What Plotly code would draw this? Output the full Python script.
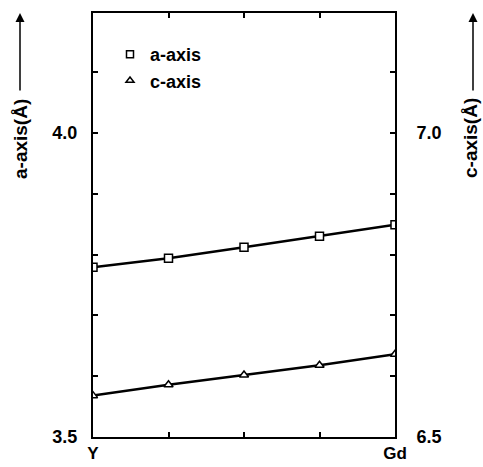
import plotly.graph_objects as go

# data
categories = ["Y", "", "", "", "Gd"]
x_pos = [0, 1, 2, 3, 4]
a_axis = [3.779, 3.794, 3.812, 3.830, 3.849]
c_axis = [6.568, 6.586, 6.602, 6.618, 6.636]
left_ticks = [3.5, 3.6, 3.7, 3.8, 3.9, 4.0, 4.1]
left_ticktext = ["3.5", "", "", "", "", "4.0", ""]
right_ticks = [6.5, 6.6, 6.7, 6.8, 6.9, 7.0, 7.1]
right_ticktext = ["6.5", "", "", "", "", "7.0", ""]

FONT = "Liberation Sans"
L, R, T, B = 93, 88, 13, 30
W, H = 483, 467
PW, PH = W - L - R, H - T - B

def px(xp):
    return (xp - L) / PW

def py(yp):
    return (H - B - yp) / PH

fig = go.Figure()
fig.add_trace(go.Scatter(
    x=x_pos, y=a_axis, mode="lines+markers", showlegend=False,
    line=dict(color="black", width=2.5),
    marker=dict(symbol="square", size=8, color="white", line=dict(color="black", width=1.5)),
))
fig.add_trace(go.Scatter(
    x=x_pos, y=c_axis, mode="lines+markers", showlegend=False, yaxis="y2",
    line=dict(color="black", width=2.5),
    marker=dict(symbol="triangle-up", size=8, color="white", line=dict(color="black", width=1.5)),
))
# legend-only entries
fig.add_trace(go.Scatter(
    x=[None], y=[None], mode="markers", name="a-axis",
    marker=dict(symbol="square", size=7, color="white", line=dict(color="black", width=1.5)),
))
fig.add_trace(go.Scatter(
    x=[None], y=[None], mode="markers", name="c-axis",
    marker=dict(symbol="triangle-up", size=7, color="white", line=dict(color="black", width=1.5)),
))

tickfont = dict(family=FONT, size=18, color="black", weight="bold")
xtickfont = dict(family=FONT, size=17, color="black", weight="bold")

fig.update_layout(
    width=W, height=H,
    margin=dict(l=L, r=R, t=T, b=B, pad=0, autoexpand=False),
    paper_bgcolor="white", plot_bgcolor="white",
    font=dict(family=FONT, color="black"),
    xaxis=dict(
        range=[0, 4], tickvals=x_pos, ticktext=categories, automargin=False,
        ticks="inside", ticklen=5, tickwidth=1.5, tickcolor="black",
        showline=True, linecolor="black", linewidth=2, mirror="ticks",
        showgrid=False, zeroline=False, tickfont=xtickfont, ticklabelstandoff=0,
    ),
    yaxis=dict(
        range=[3.5, 4.197], tickvals=left_ticks, ticktext=left_ticktext, automargin=False,
        ticks="inside", ticklen=5, tickwidth=1.5, tickcolor="black",
        showline=True, linecolor="black", linewidth=2,
        showgrid=False, zeroline=False, tickfont=tickfont, ticklabelstandoff=10,
    ),
    yaxis2=dict(
        range=[6.5, 7.197], tickvals=right_ticks, ticktext=right_ticktext, automargin=False,
        overlaying="y", side="right",
        ticks="inside", ticklen=5, tickwidth=1.5, tickcolor="black",
        showline=True, linecolor="black", linewidth=2,
        showgrid=False, zeroline=False, tickfont=tickfont, ticklabelstandoff=16,
    ),
    legend=dict(
        x=px(110), y=py(36), xanchor="left", yanchor="top",
        bgcolor="rgba(0,0,0,0)", itemwidth=30, tracegroupgap=4,
        font=dict(family=FONT, size=18, color="black", weight="bold"),
    ),
    showlegend=True,
)

title_font = dict(family=FONT, size=19, color="black", weight="bold")
fig.add_annotation(text="a-axis(Å)", xref="paper", yref="paper",
                   x=px(20), y=py(139), textangle=-90, showarrow=False,
                   xanchor="center", yanchor="middle", font=title_font)
fig.add_annotation(text="c-axis(Å)", xref="paper", yref="paper",
                   x=px(470), y=py(138), textangle=-90, showarrow=False,
                   xanchor="center", yanchor="middle", font=title_font)
for xa in (20, 473):
    fig.add_annotation(text="", xref="paper", yref="paper",
                       x=px(xa), y=py(13), ax=0, ay=79, showarrow=True,
                       arrowhead=2, arrowsize=1.2, arrowwidth=1.5, arrowcolor="black",
                       standoff=0, startstandoff=0)

fig.write_html("out.html")
